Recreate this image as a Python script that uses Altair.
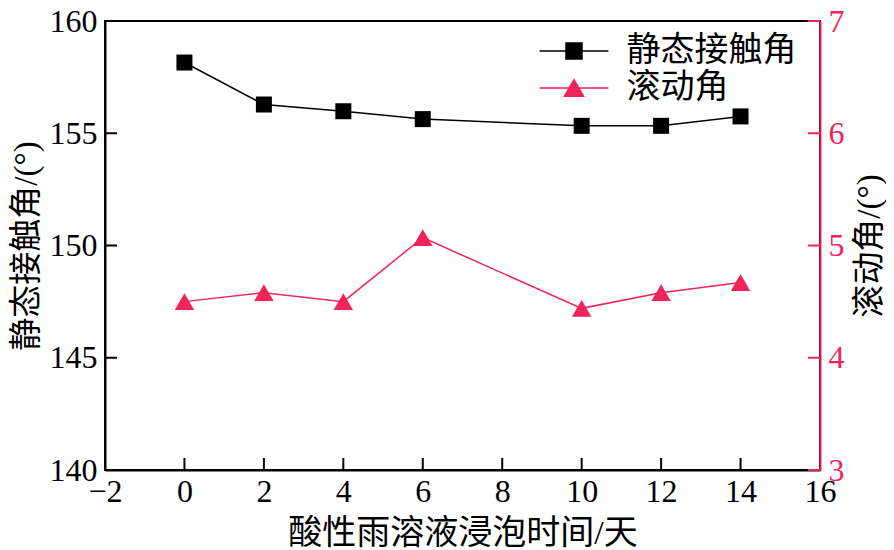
import altair as alt
import pandas as pd

# ---- data ----
days = [0, 2, 4, 6, 10, 12, 14]
static_angle = [158.15, 156.28, 155.98, 155.63, 155.33, 155.33, 155.75]
sliding_angle = [4.50, 4.58, 4.50, 5.07, 4.44, 4.58, 4.67]
series_names = ["静态接触角", "滚动角"]
x_ticks = [-2, 0, 2, 4, 6, 8, 10, 12, 14, 16]
left_ticks = [140, 145, 150, 155, 160]
right_ticks = [3, 4, 5, 6, 7]
x_title = "酸性雨溶液浸泡时间/天"
left_title = "静态接触角/(°)"
right_title = "滚动角/(°)"

# ---- styles ----
BLACK = "#000000"
RED = "#F0245A"
W, H = 715, 449
TICK = 12
NUM_FONT = "Liberation Serif"
CJK_FONT = "Liberation Serif, Noto Sans CJK SC"
FS = 32
TFS = 33

SQ_PATH = "M-4.3,0H4.3M-1,-1H1V1H-1Z"
TRI_PATH = "M-4.3,0H4.3M0,-1.04L1.2,1.04L-1.2,1.04Z"

df = pd.DataFrame({"day": days, "static": static_angle, "sliding": sliding_angle})
legend_df = pd.DataFrame({"series": series_names})
xtick_df = pd.DataFrame({"day": x_ticks})
ltick_df = pd.DataFrame({"static": left_ticks})
rtick_df = pd.DataFrame({"sliding": right_ticks})

x_enc = alt.X(
    "day:Q",
    scale=alt.Scale(domain=[-2, 16], nice=False, zero=False),
    axis=alt.Axis(
        values=x_ticks, title=x_title, format="d", ticks=False, grid=False,
        domainColor=BLACK, domainWidth=2, labelFlush=False,
        labelFont=NUM_FONT, labelFontSize=FS, labelColor=BLACK, labelPadding=6,
        titleFont=CJK_FONT, titleFontSize=34, titleColor=BLACK, titlePadding=9,
        titleFontWeight="normal",
    ),
)

y_left = alt.Y(
    "static:Q",
    scale=alt.Scale(domain=[140, 160], nice=False, zero=False),
    axis=alt.Axis(
        orient="left", values=left_ticks, title=left_title, ticks=False, grid=False,
        domainColor=BLACK, domainWidth=2, labelFlush=False,
        labelFont=NUM_FONT, labelFontSize=FS, labelColor=BLACK, labelPadding=8,
        titleFont=CJK_FONT, titleFontSize=TFS, titleColor=BLACK, titlePadding=6,
        titleFontWeight="normal",
    ),
)

y_right = alt.Y(
    "sliding:Q",
    scale=alt.Scale(domain=[3, 7], nice=False, zero=False),
    axis=alt.Axis(
        orient="right", values=right_ticks, title=right_title, ticks=False, grid=False,
        domainColor=RED, domainWidth=2, labelFlush=False,
        labelFont=NUM_FONT, labelFontSize=FS, labelColor=RED, labelPadding=8,
        titleFont=CJK_FONT, titleFontSize=TFS, titleColor=BLACK, titlePadding=9,
        titleAngle=270, titleBaseline="top", titleFontWeight="normal",
    ),
)

base = alt.Chart(df)

# inward tick marks along the frame, positioned by the scales from the tick lists
x_tick_marks = (
    alt.Chart(xtick_df)
    .transform_filter("datum.day > -2 && datum.day < 16")
    .mark_rule(color=BLACK, strokeWidth=2, opacity=1)
    .encode(x=x_enc, y=alt.value(H), y2=alt.value(H - TICK))
)
left_tick_marks = (
    alt.Chart(ltick_df)
    .mark_rule(color=BLACK, strokeWidth=2, opacity=1)
    .encode(y=y_left, x=alt.value(0), x2=alt.value(TICK))
)
right_tick_marks = (
    alt.Chart(rtick_df)
    .mark_rule(color=RED, strokeWidth=2, opacity=1)
    .encode(y=y_right, x=alt.value(W), x2=alt.value(W - TICK))
)

black_line = base.mark_line(color=BLACK, strokeWidth=1.5).encode(x=x_enc, y=y_left)
black_pts = base.mark_point(shape="square", filled=True, size=256, color=BLACK, opacity=1).encode(
    x=x_enc, y=y_left
)

leg = alt.Legend(
    title=None, orient="none", legendX=452, legendY=13, padding=0,
    labelFont=CJK_FONT, labelFontSize=34, labelColor=BLACK, labelLimit=500,
    labelOffset=35.5, rowPadding=3, symbolSize=256, symbolStrokeWidth=1.5,
    symbolOpacity=1, direction="vertical",
)
legend_layer = (
    alt.Chart(legend_df)
    .transform_filter("false")
    .mark_point(filled=True)
    .encode(
        shape=alt.Shape("series:N", scale=alt.Scale(domain=series_names, range=[SQ_PATH, TRI_PATH]), legend=leg),
        fill=alt.Fill("series:N", scale=alt.Scale(domain=series_names, range=[BLACK, RED]), legend=leg),
        stroke=alt.Stroke("series:N", scale=alt.Scale(domain=series_names, range=[BLACK, RED]), legend=leg),
    )
)

red_line = base.mark_line(color=RED, strokeWidth=1.5).encode(x=x_enc, y=y_right)
red_pts = base.mark_point(shape="triangle-up", filled=True, size=380, color=RED, opacity=1).encode(
    x=x_enc, y=y_right
)

left = alt.layer(black_line, black_pts, legend_layer, x_tick_marks, left_tick_marks)
right = alt.layer(red_line, red_pts, right_tick_marks)

chart = (
    alt.layer(left, right)
    .resolve_scale(y="independent")
    .properties(
        width=W, height=H,
        autosize=alt.AutoSizeParams(type="none"),
        padding={"left": 97, "top": 13, "right": 66, "bottom": 80},
    )
    .configure_view(stroke=BLACK, strokeWidth=2)
)

chart.save("out.html", embed_options={"renderer": "svg", "actions": False})
